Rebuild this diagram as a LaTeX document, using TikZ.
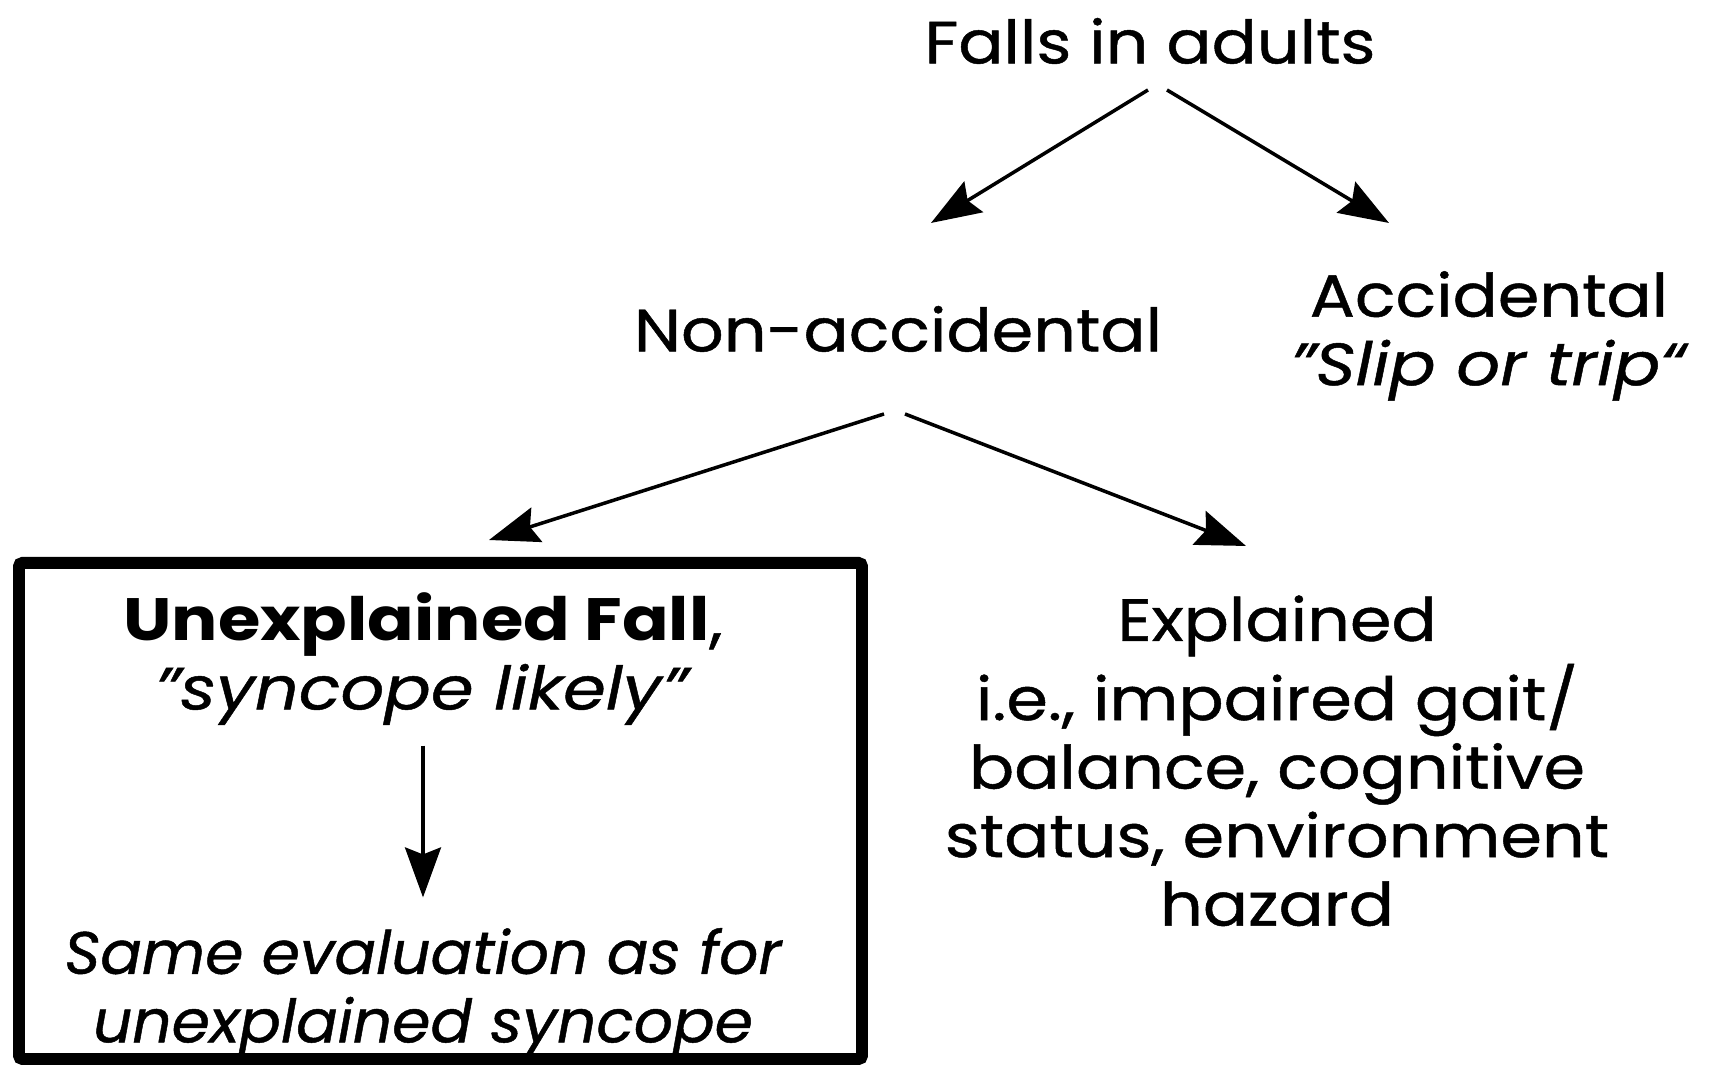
\documentclass[tikz,border=0pt]{standalone}
\usepackage{fontspec}
\setmainfont{Poppins}[
  UprightFeatures={FakeStretch=1.12, FakeBold=0.8},
  BoldFeatures={FakeStretch=1.15},
  ItalicFeatures={FakeStretch=1.15, FakeBold=0.8}]
\newfontfamily\evalfont{Poppins}[ItalicFeatures={FakeStretch=1.03, FakeBold=0.8}]
\usetikzlibrary{arrows,arrows.meta,positioning,calc}

\begin{document}
\begin{tikzpicture}[
  font=\fontsize{17}{19.5}\selectfont,
  >={Stealth[length=5mm,width=3.6mm,inset=0.7mm]},
  link/.style={->, line width=1pt},
  txt/.style={align=center, inner sep=0pt},
  evaltxt/.style={txt, font=\fontsize{17}{19.5}\evalfont\itshape},
  frame/.style={draw, line width=3.4pt, rounded corners=1pt, minimum width=8.43cm, minimum height=4.96cm, inner sep=0pt}
]
\useasboundingbox (0,0) rectangle (17.22,10.72);

\node[txt] (falls) at (11.50,10.31) {Falls in adults};
\node[txt] (nonacc) at (8.98,7.43) {Non-accidental};
\node[txt] (acc) at (14.89,7.36) {Accidental\\\textit{"Slip or trip“}};

\node[frame] (box) at (4.405,2.61) {};
\node[txt] (unex) at (4.23,4.13) {\textbf{Unexplained Fall},\\\textit{"syncope likely"}};
\node[evaltxt] (same) at (4.23,0.79) {Same evaluation as for\\unexplained syncope};

\node[txt] (expl) at (12.77,4.46) {Explained};
\node[txt] (expldet) at (12.77,2.77) {i.e., impaired gait/\\balance, cognitive\\status, environment\\hazard};

\draw[link] ([shift={(-0.02,-0.49)}]falls.center) -- ([shift={(0.33,1.06)}]nonacc.center);
\draw[link] ([shift={(0.17,-0.49)}]falls.center) -- ([shift={(-1.00,1.13)}]acc.center);
\draw[link] ([shift={(-0.14,-0.85)}]nonacc.center) -- ([shift={(0.485,0.17)}]box.north);
\draw[link] ([shift={(0.07,-0.85)}]nonacc.center) -- ([shift={(-0.31,0.80)}]expl.center);
\draw[link] ([yshift=-2mm]unex.south) -- ([yshift=3mm]same.north);

\end{tikzpicture}
\end{document}
